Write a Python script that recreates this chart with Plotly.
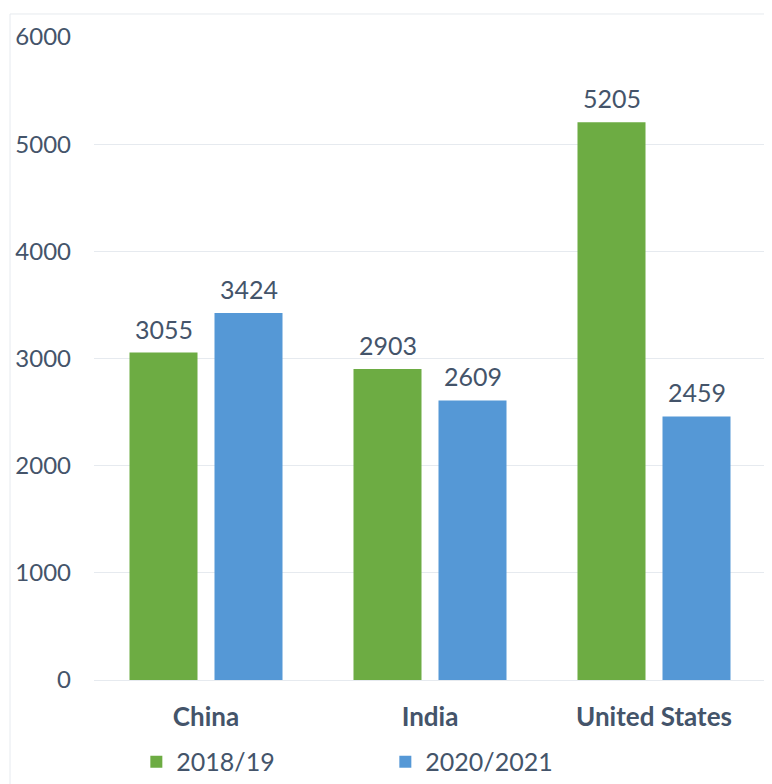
import plotly.graph_objects as go

categories = ["China", "India", "United States"]
series_names = ["2018/19", "2020/2021"]
values_2018 = [3055, 2903, 5205]
values_2020 = [3424, 2609, 2459]

text_color = "#44546a"
font_family = "Lato, 'Open Sans', sans-serif"

fig = go.Figure()
fig.add_trace(go.Bar(
    x=categories, y=values_2018, name=series_names[0],
    marker=dict(color="#6dac43", line=dict(width=0)),
))
fig.add_trace(go.Bar(
    x=categories, y=values_2020, name=series_names[1],
    marker=dict(color="#5598d6", line=dict(width=0)),
))

# value labels above bars (half a bar slot left/right of category center)
annotations = []
for vals, shift in ((values_2018, -42.5), (values_2020, 42.5)):
    for c, v in zip(categories, vals):
        annotations.append(dict(x=c, y=v, xref="x", yref="y", text=str(v), showarrow=False,
                                xshift=shift, yshift=7, yanchor="bottom",
                                font=dict(size=25, color=text_color, family=font_family)))

fig.update_layout(
    width=764, height=776,
    margin=dict(l=86, r=6, t=29, b=104, autoexpand=False),
    paper_bgcolor="white", plot_bgcolor="white",
    barmode="group", bargap=0.241, bargroupgap=0.2,
    font=dict(family=font_family, color=text_color),
    showlegend=True,
    legend=dict(orientation="h", x=0.063, xanchor="left", y=-0.1275, yanchor="middle",
                font=dict(size=25, color=text_color, family=font_family),
                itemwidth=30, entrywidth=204, traceorder="normal"),
    annotations=annotations,
    shapes=[dict(type="rect", xref="paper", yref="paper",
                 x0=-0.125, x1=1.2, y0=-0.3, y1=1.0358,
                 line=dict(color="#e6eaef", width=1), fillcolor="rgba(0,0,0,0)", layer="below")],
)
fig.update_yaxes(range=[0, 6000], tickvals=[0, 1000, 2000, 3000, 4000, 5000, 6000],
                 automargin=False,
                 showgrid=True, gridcolor="#e6eaef", gridwidth=1,
                 zeroline=True, zerolinecolor="#e6eaef", zerolinewidth=1,
                 showline=False, ticks="", ticklabelstandoff=22,
                 tickfont=dict(size=24, color=text_color, family=font_family))
fig.update_xaxes(showgrid=False, showline=False, ticks="", ticklabelstandoff=19,
                 automargin=False,
                 tickfont=dict(size=26, color=text_color, family=font_family, weight="bold"))

fig.write_html("out.html")
